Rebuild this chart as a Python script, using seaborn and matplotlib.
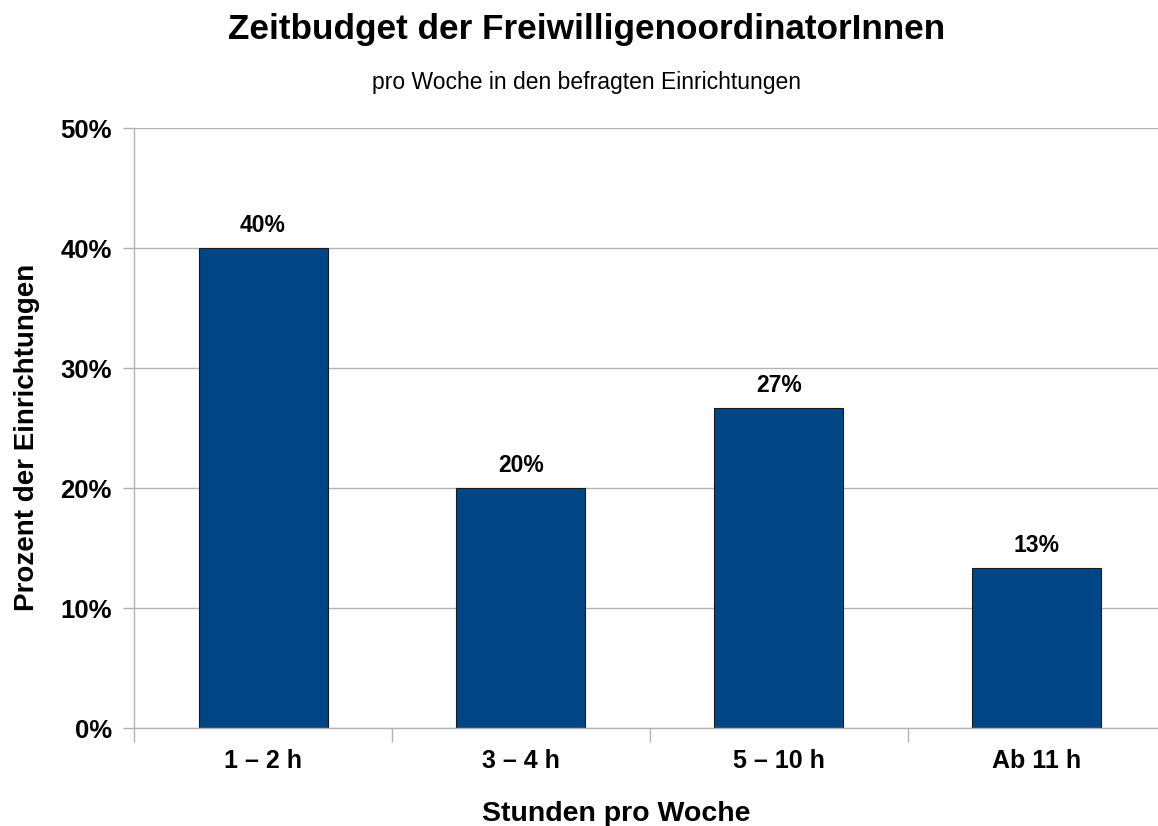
import matplotlib
matplotlib.use("Agg")
import matplotlib.pyplot as plt
import seaborn as sns
from matplotlib.ticker import FixedLocator, FuncFormatter

# Daten aus dem Diagramm
kategorien = ["1 – 2 h", "3 – 4 h", "5 – 10 h", "Ab 11 h"]
prozent = [40.0, 20.0, 26.67, 13.33]
y_ticks = [0, 10, 20, 30, 40, 50]

titel = "Zeitbudget der FreiwilligenoordinatorInnen"
untertitel = "pro Woche in den befragten Einrichtungen"
x_titel = "Stunden pro Woche"
y_titel = "Prozent der Einrichtungen"

sns.set_theme(style="white")
plt.rcParams['font.family'] = ['Liberation Sans', 'DejaVu Sans']
plt.rcParams['text.color'] = 'black'
plt.rcParams['xtick.color'] = 'black'
plt.rcParams['ytick.color'] = 'black'

W, H = 1158, 826
fig = plt.figure(figsize=(W / 100, H / 100), dpi=100)
ax = fig.add_axes([134 / W, 1 - 728 / H, (1166 - 134) / W, (728 - 128) / H])

sns.barplot(x=kategorien, y=prozent, color="#004586", saturation=1,
            width=0.5, edgecolor="#1a1a1a", linewidth=0.8, ax=ax)

ax.set_xlim(-0.5, len(kategorien) - 0.5)
ax.set_ylim(0, 50)
ax.set_yticks(y_ticks)
ax.yaxis.set_major_formatter(FuncFormatter(lambda v, p: f"{v:.0f}%"))
ax.yaxis.grid(True, color="#b3b3b3", linewidth=1)
ax.set_axisbelow(True)

# Striche zwischen den Kategorien
ax.xaxis.set_minor_locator(FixedLocator([i - 0.5 for i in range(len(kategorien) + 1)]))
ax.tick_params(axis="x", which="major", bottom=True, length=0, pad=15, labelsize=18)
ax.tick_params(axis="x", which="minor", bottom=True, length=10, width=1, color="#b3b3b3", direction="out")
ax.tick_params(axis="y", left=True, length=8, width=1, color="#b3b3b3", direction="out", pad=8, labelsize=18.5)
for lab in ax.get_xticklabels() + ax.get_yticklabels():
    lab.set_fontweight("bold")

for s in ["top", "right"]:
    ax.spines[s].set_visible(False)
for s in ["left", "bottom"]:
    ax.spines[s].set_color("#b3b3b3")
    ax.spines[s].set_linewidth(1)

ax.bar_label(ax.containers[0], labels=[f"{v:.0f}%" for v in prozent],
             padding=8, fontsize=16.5, fontweight="bold")

ax.set_xlabel("")
ax.set_ylabel("")

fig.text(587 / W, 1 - 29 / H, titel, ha="center", va="center",
         fontsize=25.3, fontweight="bold")
fig.text(587 / W, 1 - 83 / H, untertitel, ha="center", va="center", fontsize=16.5)
fig.text(616 / W, 1 - 814 / H, x_titel, ha="center", va="center",
         fontsize=20.5, fontweight="bold")
fig.text(27 / W, 1 - 437 / H, y_titel, ha="center", va="center", rotation=90,
         fontsize=20, fontweight="bold")

fig.savefig("out.png", dpi=100)
